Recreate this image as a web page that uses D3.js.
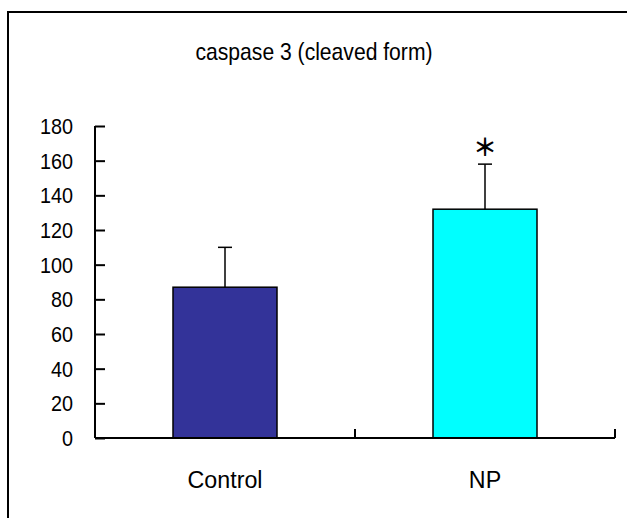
<!DOCTYPE html>
<html>
<head>
<meta charset="utf-8">
<script src="https://cdn.jsdelivr.net/npm/d3@7"></script>
<style>
  body { margin: 0; background: #fff; }
  text { font-family: "Liberation Sans", Arial, sans-serif; fill: #000; }
</style>
</head>
<body>
<div id="chart"></div>
<script>
// datos
const categories = ["Control", "NP"];
const means = [87, 132];
const errors = [23, 26];
const barColors = ["#333399", "#00ffff"];
const significant = [false, true];
const yTicks = [0, 20, 40, 60, 80, 100, 120, 140, 160, 180];
const title = "caspase 3 (cleaved form)";

const W = 627, H = 518;
const margin = { top: 126, right: 12, bottom: 80, left: 95 };
const width = W - margin.left - margin.right;   // 520
const height = H - margin.top - margin.bottom;  // 312
const squeeze = 0.88; // el texto original es algo estrecho

const svg = d3.select("#chart")
    .append("svg")
    .attr("width", W)
    .attr("height", H);

// marco (solo se ven arriba e izquierda)
svg.append("path")
    .attr("d", `M8,${H} L8,12 L${W},12`)
    .attr("fill", "none")
    .attr("stroke", "#000")
    .attr("stroke-width", 2);

// titulo
svg.append("text")
    .attr("transform", `translate(314,60) scale(${squeeze},1)`)
    .attr("text-anchor", "middle")
    .style("font-size", "24px")
    .text(title);

const g = svg.append("g")
    .attr("transform", `translate(${margin.left},${margin.top})`);

const x = d3.scaleBand()
    .domain(categories)
    .range([0, width]);

const y = d3.scaleLinear()
    .domain([0, 180])
    .range([height, 0]);

const barW = x.bandwidth() * 0.4;

// eje y
const yAxis = g.append("g")
    .call(d3.axisRight(y).tickValues(yTicks).tickSize(10).tickFormat(""));
yAxis.select(".domain").attr("d", `M0,0V${height}`).attr("stroke-width", 2);
yAxis.selectAll(".tick line").attr("stroke-width", 2);

g.selectAll(".ylabel")
    .data(yTicks)
    .enter()
    .append("text")
    .attr("class", "ylabel")
    .attr("transform", d => `translate(-22,${y(d)}) scale(${squeeze},1)`)
    .attr("dy", "0.36em")
    .attr("text-anchor", "end")
    .style("font-size", "22.5px")
    .text(d => d);

// barras
g.selectAll("rect.bar")
    .data(categories)
    .enter()
    .append("rect")
    .attr("class", "bar")
    .attr("x", d => x(d) + (x.bandwidth() - barW) / 2)
    .attr("y", (d, i) => y(means[i]))
    .attr("width", barW)
    .attr("height", (d, i) => height - y(means[i]))
    .attr("fill", (d, i) => barColors[i])
    .attr("stroke", "#000")
    .attr("stroke-width", 1.5);

// barras de error
categories.forEach((c, i) => {
    const cx = x(c) + x.bandwidth() / 2;
    const top = y(means[i] + errors[i]);
    g.append("line")
        .attr("x1", cx).attr("x2", cx)
        .attr("y1", y(means[i])).attr("y2", top)
        .attr("stroke", "#000").attr("stroke-width", 1.5);
    g.append("line")
        .attr("x1", cx - 7).attr("x2", cx + 7)
        .attr("y1", top).attr("y2", top)
        .attr("stroke", "#000").attr("stroke-width", 1.5);
    if (significant[i]) {
        g.append("text")
            .attr("x", cx)
            .attr("y", top - 19)
            .attr("text-anchor", "middle")
            .attr("dominant-baseline", "central")
            .style("font-family", "'Noto Sans CJK JP', sans-serif")
            .style("font-weight", "bold")
            .style("font-size", "24px")
            .text("＊");
    }
});

// eje x
const xAxis = g.append("g")
    .attr("transform", `translate(0,${height})`);
xAxis.append("line")
    .attr("x1", 0).attr("x2", width)
    .attr("stroke", "#000").attr("stroke-width", 2);
xAxis.selectAll("line.xtick")
    .data(categories)
    .enter()
    .append("line")
    .attr("class", "xtick")
    .attr("x1", d => x(d) + x.bandwidth())
    .attr("x2", d => x(d) + x.bandwidth())
    .attr("y1", 0).attr("y2", -9)
    .attr("stroke", "#000").attr("stroke-width", 2);

xAxis.selectAll("text.xlabel")
    .data(categories)
    .enter()
    .append("text")
    .attr("class", "xlabel")
    .attr("transform", d => `translate(${x(d) + x.bandwidth() / 2},50) scale(0.95,1)`)
    .attr("text-anchor", "middle")
    .style("font-size", "24.5px")
    .text(d => d);
</script>
</body>
</html>
